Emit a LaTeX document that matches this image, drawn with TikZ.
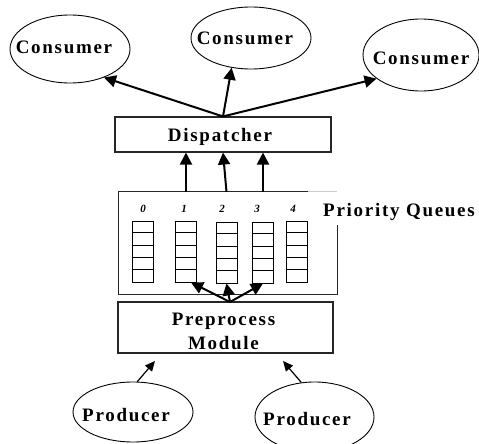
\documentclass[tikz,border=0pt]{standalone}
\usepackage{fontspec}
\setmainfont{Liberation Serif}[LetterSpace=9]
\usetikzlibrary{arrows.meta,shapes.geometric}

\begin{document}
\begin{tikzpicture}[x=1pt,y=-1pt,
  lbl/.style={font=\fontsize{19}{24}\selectfont\bfseries, inner sep=0pt, anchor=base},
  idx/.style={font=\fontsize{11}{13}\selectfont\bfseries\itshape, inner sep=0pt, anchor=base},
  actor/.style={draw, ellipse, line width=0.9pt, inner sep=0pt},
  box/.style={draw=black!85, line width=1.1pt, rectangle, inner sep=0pt},
  qcol/.style={draw, line width=0.9pt, minimum width=21pt, minimum height=61pt, inner sep=0pt},
  flow/.style={line width=2pt, -{Triangle[length=12pt,width=12pt]}},
  feed/.style={line width=1.2pt, -{Triangle[length=10pt,width=9pt]}},
]
\useasboundingbox (0,0) rectangle (479,444);

% consumers
\node[actor, minimum width=120pt, minimum height=68pt] (c1) at (70,49) {};
\node[lbl] (c1t) at (64,53) {Consumer};
\node[actor, minimum width=120pt, minimum height=62pt] (c2) at (251,38) {};
\node[lbl] (c2t) at (245,45) {Consumer};
\node[actor, minimum width=116pt, minimum height=72pt] (c3) at (421,55) {};
\node[lbl] (c3t) at (421,65) {Consumer};

% dispatcher
\node[box, minimum width=216pt, minimum height=35pt] (disp) at (223,134.5) {};
\node[lbl] (dispt) at (220,141) {Dispatcher};

% priority queue frame
\node[minimum width=218pt, minimum height=102pt, inner sep=0pt] (qbox) at (228,243) {};
\draw[draw=black!85, line width=1.1pt] ([xshift=189pt]qbox.north west) -- (qbox.north west)
  -- (qbox.south west) -- (qbox.south east) -- ([yshift=-33pt]qbox.north east);
\draw[black!20, line width=1pt] ([xshift=189pt]qbox.north west) -- (qbox.north east);
\node[lbl] (pq) at (399,216) {Priority Queues};

% queues with five slots each
\foreach \i/\x/\y in {0/142.5/251.5, 1/186/251.5, 2/226.5/252.5, 3/263/252.5, 4/297/251.5} {
  \node[qcol] (q\i) at (\x,\y) {};
  \foreach \k in {1,...,4}
    \draw[line width=0.9pt] ([yshift=-\k*12.2pt]q\i.north west) -- ([yshift=-\k*12.2pt]q\i.north east);
}
\node[idx] (n0) at (143,212) {0};
\node[idx] (n1) at (184,212) {1};
\node[idx] (n2) at (222,212) {2};
\node[idx] (n3) at (257,212) {3};
\node[idx] (n4) at (293,212) {4};

% preprocess module
\node[box, minimum width=215pt, minimum height=51pt] (pre) at (225.5,327.5) {};
\node[lbl] (pre1) at (223.5,325) {Preprocess};
\node[lbl] (pre2) at (223.5,349) {Module};

% producers
\node[actor, minimum width=120pt, minimum height=60pt] (p1) at (133,412) {};
\node[lbl] (p1t) at (126,421) {Producer};
\node[actor, minimum width=119pt, minimum height=70pt] (p2) at (314.5,417) {};
\node[lbl] (p2t) at (307,425) {Producer};

% dispatcher to consumers
\draw[flow] (disp.north) -- (c1.-40);
\draw[flow] (disp.north) -- (c2.-123);
\draw[flow] (disp.north) -- (c3.-152);

% queues to dispatcher
\draw[flow] (q1 |- qbox.north) -- (q1 |- disp.south);
\draw[flow] (q2 |- qbox.north) -- (disp.south);
\draw[flow] (q3 |- qbox.north) -- (q3 |- disp.south);

% preprocess into queues
\coordinate (fan) at (230,302);
\draw[flow] (fan) -- ([xshift=5pt]q1.south);
\draw[flow] (fan) -- (q2.south);
\draw[flow] (fan) -- (q3.south);

% producers into preprocess
\coordinate (in1) at (155,361);
\coordinate (in2) at (283,361);
\draw[feed] (p1.82) -- (in1);
\draw[feed] (p2.111) -- (in2);
\end{tikzpicture}
\end{document}
